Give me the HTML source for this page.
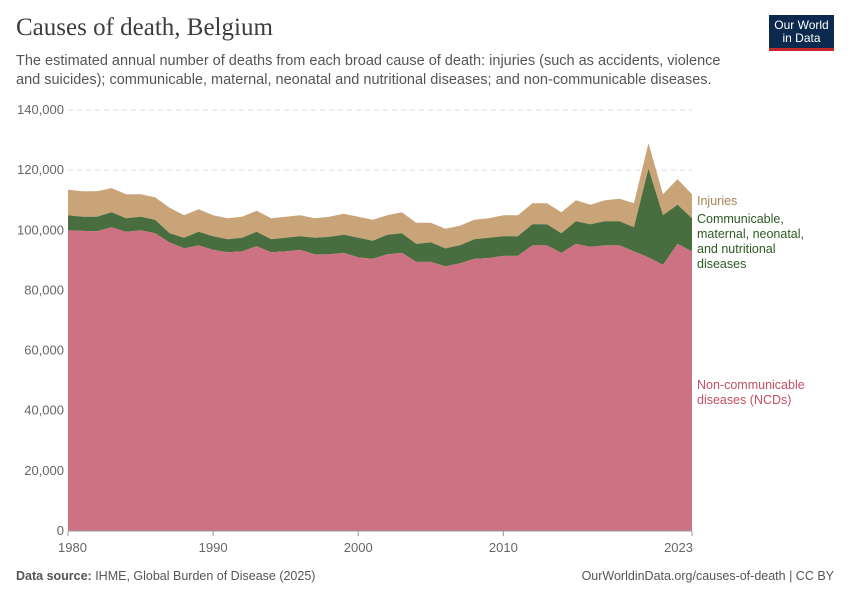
<!DOCTYPE html>
<html><head><meta charset="utf-8">
<style>
body{margin:0;background:#fff;font-family:"Liberation Sans",sans-serif;}
#wrap{position:relative;width:850px;height:600px;overflow:hidden;}
.title{position:absolute;left:16px;top:14px;font-family:"Liberation Serif",serif;font-size:25px;color:#3d3d3d;}
.sub{position:absolute;left:16px;top:52px;width:720px;font-size:14.5px;line-height:19px;color:#555;}
.logo{position:absolute;left:769px;top:15px;width:65px;height:36px;background:#0c2a4d;color:#fff;font-size:12px;line-height:13px;text-align:center;padding-top:4px;box-sizing:border-box;border-bottom:3px solid #c8262c;}
.foot{position:absolute;top:569px;font-size:12.5px;color:#555;}
</style></head><body>
<div id="wrap">
<div class="title">Causes of death, Belgium</div>
<div class="sub">The estimated annual number of deaths from each broad cause of death: injuries (such as accidents, violence and suicides); communicable, maternal, neonatal and nutritional diseases; and non-communicable diseases.</div>
<div class="logo">Our World<br>in Data</div>
<svg id="svg" width="850" height="600" style="position:absolute;left:0;top:0"></svg>
<div class="foot" style="left:16px"><b>Data source:</b> IHME, Global Burden of Disease (2025)</div>
<div class="foot" style="right:16px">OurWorldinData.org/causes-of-death | CC BY</div>
</div>
<script>
const years=[1980,1981,1982,1983,1984,1985,1986,1987,1988,1989,1990,1991,1992,1993,1994,1995,1996,1997,1998,1999,2000,2001,2002,2003,2004,2005,2006,2007,2008,2009,2010,2011,2012,2013,2014,2015,2016,2017,2018,2019,2020,2021,2022,2023];
const ncd=[100,99.8,99.7,101,99.5,100,99,96,94,95,93.5,92.7,93,94.7,92.7,93,93.5,92,92,92.5,91,90.5,92,92.5,89.5,89.5,88,89,90.5,90.8,91.5,91.5,95,95,92.5,95.5,94.5,95,95,93,91,88.5,95.5,93].map(v=>v*1000);
const comm=[5,4.7,4.8,5,4.5,4.5,4.5,3,3.5,4.5,4.5,4.3,4.5,4.8,4.3,4.5,4.5,5.5,5.8,6,6.5,6,6.5,6.5,6,6.5,6,6,6.5,6.7,6.5,6.5,7,7,6.5,7.5,7.5,8,8,8,29.5,16.5,13,11].map(v=>v*1000);
const inj=[8.5,8.5,8.5,8,8,7.5,7.5,8.5,7.5,7.5,7,7,7,7,7,7,7,6.5,6.7,7,7,7,6.5,7,7,6.5,6.5,6.5,6.5,6.5,7,7,7,7,7,7,6.5,7,7.5,8,8.5,7,8.5,8].map(v=>v*1000);
const yTicks=[0,20000,40000,60000,80000,100000,120000,140000];
const xTicks=[1980,1990,2000,2010,2023];
const svg=document.getElementById('svg');const NS='http://www.w3.org/2000/svg';
const x=y=>68+(y-1980)*(624/43);
const yS=v=>531-v*(421/140000);
function mk(t,a,p){const e=document.createElementNS(NS,t);for(const k in a)e.setAttribute(k,a[k]);(p||svg).appendChild(e);return e;}
yTicks.forEach(t=>{
 if(t>0){const l=mk('line',{x1:68,x2:692,y1:yS(t),y2:yS(t),stroke:'#ddd','stroke-dasharray':'5,4'});
 }
 const tx=mk('text',{x:64,y:yS(t)+4,'text-anchor':'end','font-size':13,fill:'#666','font-family':'Liberation Sans'});
 tx.textContent=t.toLocaleString('en-US');
 
});
const c1=ncd, c2=ncd.map((v,i)=>v+comm[i]), c3=c2.map((v,i)=>v+inj[i]);
function area(top,bot,col,name){
 let d='M'+years.map((y,i)=>x(y)+','+yS(top[i])).join('L');
 for(let i=years.length-1;i>=0;i--)d+='L'+x(years[i])+','+yS(bot?bot[i]:0);
 const p=mk('path',{d:d+'Z',fill:col});
 
}
area(c3,c2,'#c8a478','area-injuries');
area(c2,c1,'#486d3e','area-communicable');
area(c1,null,'#cc7282','area-ncd');
const ax=mk('line',{x1:68,x2:692,y1:531,y2:531,stroke:'#999'});

xTicks.forEach(t=>{
 const tk=mk('line',{x1:x(t),x2:x(t),y1:531,y2:536,stroke:'#999'});
 
 const tx=mk('text',{x:x(t),y:552,'text-anchor':t==1980?'start':(t==2023?'end':'middle'),'font-size':13,fill:'#666','font-family':'Liberation Sans'});
 if(t==1980)tx.setAttribute('x',x(t)-10); if(t==2023)tx.setAttribute('x',x(t)+1);
 tx.textContent=t;
});
function lab(lines,y0,col,name){const g=mk('text',{x:697,y:y0,'font-size':12.5,fill:col,'font-family':'Liberation Sans'});
 lines.forEach((s,i)=>{const t=mk('tspan',{x:697,dy:i?15:0},g);t.textContent=s;});
 }
lab(['Injuries'],205,'#a88356','legend-injuries');
lab(['Communicable,','maternal, neonatal,','and nutritional','diseases'],223,'#2d5a23','legend-communicable');
lab(['Non-communicable','diseases (NCDs)'],389,'#c25066','legend-ncd');
</script>
</body></html>
